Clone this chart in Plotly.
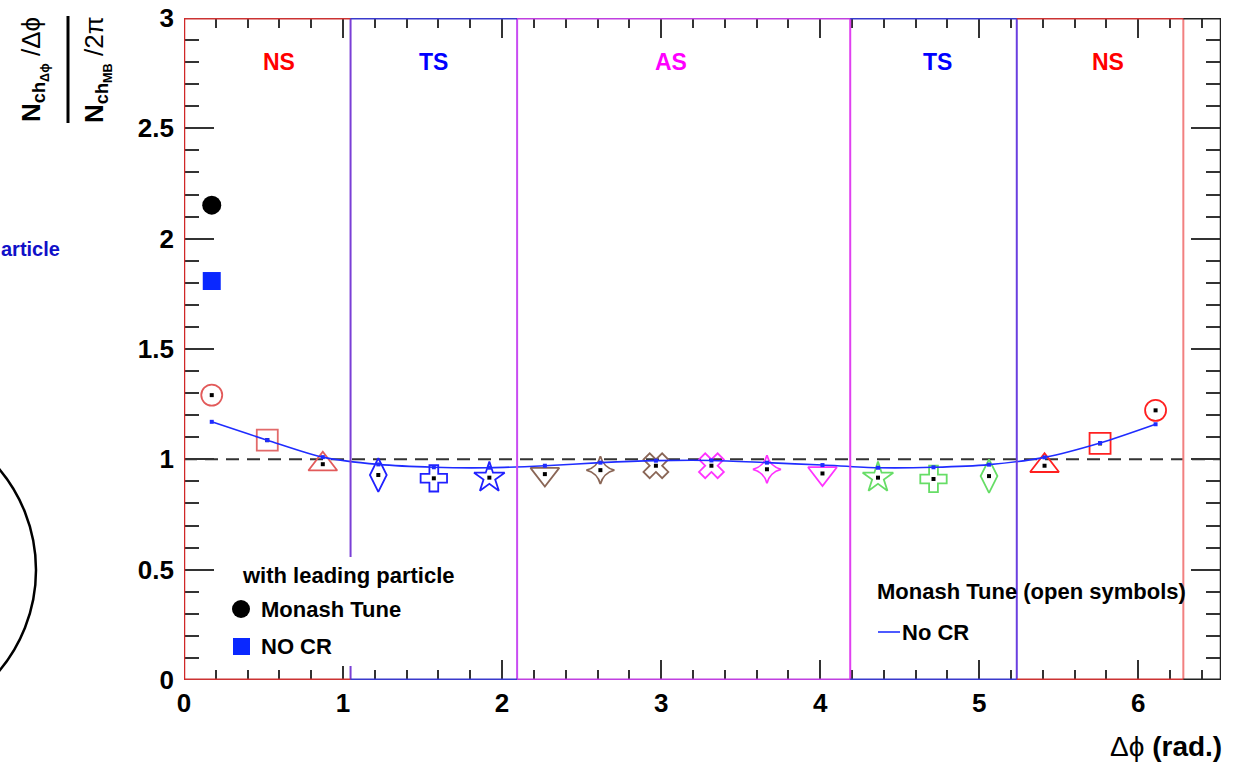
import numpy as np
import plotly.graph_objects as go

# ---------------- data ----------------
bin_centers = [0.1745, 0.5236, 0.8727, 1.2217, 1.5708, 1.9199, 2.2689, 2.6180, 2.9671,
               3.3161, 3.6652, 4.0143, 4.3633, 4.7124, 5.0615, 5.4105, 5.7596, 6.1087]
monash_open = [1.291, 1.087, 0.978, 0.929, 0.914, 0.917, 0.933, 0.951, 0.971,
               0.971, 0.955, 0.936, 0.917, 0.911, 0.924, 0.971, 1.072, 1.222]
nocr_line = [1.170, 1.087, 1.010, 0.977, 0.964, 0.962, 0.971, 0.985, 0.994,
             0.995, 0.985, 0.974, 0.962, 0.964, 0.976, 1.009, 1.074, 1.159]
open_symbols = ["circle-open", "square-open", "triangle-up-open", "diamond-tall-open", "cross-open",
                "star-open", "triangle-down-open", "star-diamond-open", "x-open",
                "x-open", "star-diamond-open", "triangle-down-open", "star-open", "cross-open",
                "diamond-tall-open", "triangle-up-open", "square-open", "circle-open"]
open_sizes = [21, 21, 25, 24, 22, 23, 25, 20, 22, 22, 20, 25, 23, 22, 24, 25, 21, 21]
open_colors = ["#e25a5a", "#e26a6a", "#e25a5a", "#2020ff", "#2020ff", "#2020ff",
               "#8a6656", "#8a6656", "#8a6656", "#ff33ff", "#ff33ff", "#ff33ff",
               "#66dd66", "#66dd66", "#66dd66", "#ff2020", "#ff2020", "#ff2020"]
lead_x = [0.1745]
lead_monash = [2.152]
lead_nocr = [1.808]

region_edges = [0, np.pi / 3, 2 * np.pi / 3, 4 * np.pi / 3, 5 * np.pi / 3, 2 * np.pi]
region_line_colors = ["#d03030", "#7a3fd6", "#c84cf2", "#e040f0", "#6a3fe0", "#f28080"]
frame_seg_colors = ["#cc3333", "#3a3acc", "#c040e0", "#3a3acc", "#cc3333"]
region_labels = ["NS", "TS", "AS", "TS", "NS"]
region_label_x = [0.60, 1.57, 3.06, 4.74, 5.81]
region_label_colors = ["#ff0000", "#0000ff", "#ff00ff", "#0000ff", "#ff0000"]
x_ticks = [0, 1, 2, 3, 4, 5, 6]
y_ticks = [0, 0.5, 1, 1.5, 2, 2.5, 3]
y_tick_labels = ["0", "0.5", "1", "1.5", "2", "2.5", "3"]

XMAX = 6.52
W, H = 1243, 762
L, R, T, B = 184, 22, 18, 82
PW, PH = W - L - R, H - T - B
FONT = "Liberation Sans"


def px(xp):
    return (xp - L) / PW


def py(yp):
    return (H - B - yp) / PH


fig = go.Figure()

# open symbols (Monash)
for i in range(len(bin_centers)):
    fig.add_trace(go.Scatter(
        x=[bin_centers[i]], y=[monash_open[i]], mode="markers",
        marker=dict(symbol=open_symbols[i], size=open_sizes[i], color=open_colors[i],
                    line=dict(width=1.8, color=open_colors[i])),
        showlegend=False, cliponaxis=False))
# central black dots
fig.add_trace(go.Scatter(x=bin_centers, y=monash_open, mode="markers",
                         marker=dict(symbol="square", size=4, color="black"), showlegend=False))
# No CR smooth line
fig.add_trace(go.Scatter(x=bin_centers, y=nocr_line, mode="lines+markers",
                         line=dict(color="#1f2cff", width=1.6, shape="spline", smoothing=0.8),
                         marker=dict(symbol="square", size=4, color="#1f2cff"), showlegend=False))
# leading particle filled
fig.add_trace(go.Scatter(x=lead_x, y=lead_monash, mode="markers",
                         marker=dict(symbol="circle", size=19, color="black"), showlegend=False))
fig.add_trace(go.Scatter(x=lead_x, y=lead_nocr, mode="markers",
                         marker=dict(symbol="square", size=18, color="#0a28ff"), showlegend=False))

shapes = []
# dashed line at 1
shapes.append(dict(type="line", xref="x", yref="y", x0=0, x1=XMAX, y0=1, y1=1,
                   line=dict(color="#333333", width=2, dash="13px,8px"), layer="below"))
# vertical region lines
for xe, c in zip(region_edges[1:], region_line_colors[1:]):
    shapes.append(dict(type="line", xref="x", yref="y", x0=xe, x1=xe, y0=0, y1=3,
                       line=dict(color=c, width=2), layer="above"))
# frame segments
for k in range(5):
    for yv in (0, 3):
        shapes.append(dict(type="line", xref="x", yref="y", x0=region_edges[k], x1=region_edges[k + 1],
                           y0=yv, y1=yv, line=dict(color=frame_seg_colors[k], width=3), layer="above"))
for yv in (0, 3):
    shapes.append(dict(type="line", xref="x", yref="y", x0=region_edges[-1], x1=XMAX, y0=yv, y1=yv,
                       line=dict(color="#222222", width=3), layer="above"))
shapes.append(dict(type="line", xref="x", yref="y", x0=0, x1=0, y0=0, y1=3,
                   line=dict(color="#d02828", width=2.5), layer="above"))
shapes.append(dict(type="line", xref="x", yref="y", x0=XMAX, x1=XMAX, y0=0, y1=3,
                   line=dict(color="#222222", width=2.5), layer="above"))

# left legend box (white, hides the region line)
shapes.append(dict(type="rect", xref="paper", yref="paper", x0=px(214), x1=px(470), y0=py(666), y1=py(557),
                   fillcolor="white", line=dict(width=0), layer="above"))
shapes.append(dict(type="circle", xref="paper", yref="paper", x0=px(232), x1=px(250), y0=py(618), y1=py(600),
                   fillcolor="black", line=dict(width=0), layer="above"))
shapes.append(dict(type="rect", xref="paper", yref="paper", x0=px(233), x1=px(250), y0=py(655), y1=py(638),
                   fillcolor="#0a28ff", line=dict(width=0), layer="above"))
# right legend line
shapes.append(dict(type="line", xref="paper", yref="paper", x0=px(878), x1=px(900), y0=py(632), y1=py(632),
                   line=dict(color="#2030ff", width=1.6), layer="above"))
# y title fraction bar
shapes.append(dict(type="line", xref="paper", yref="paper", x0=px(68), x1=px(68), y0=py(123), y1=py(16),
                   line=dict(color="black", width=3), layer="above"))
# partial circle on the left edge
cx, cy, rr = -121, 570, 157
shapes.append(dict(type="circle", xref="paper", yref="paper", x0=px(cx - rr), x1=px(cx + rr),
                   y0=py(cy + rr), y1=py(cy - rr), line=dict(color="black", width=2.5), layer="above"))

annotations = []
for lab, xl, cl in zip(region_labels, region_label_x, region_label_colors):
    annotations.append(dict(x=xl, y=2.80, xref="x", yref="y", text=f"<b>{lab}</b>", showarrow=False,
                            xanchor="center", yanchor="middle",
                            font=dict(family=FONT, size=23, color=cl)))


def ann(xp, yp, text, size, color="black", xanchor="left", angle=0):
    annotations.append(dict(x=px(xp), y=py(yp), xref="paper", yref="paper", text=text, showarrow=False,
                            xanchor=xanchor, yanchor="middle", textangle=angle,
                            font=dict(family=FONT, size=size, color=color)))


ann(240, 575, "<b>with leading particle</b>", 22)
ann(259, 609, "<b>Monash Tune</b>", 22)
ann(259, 646, "<b>NO CR</b>", 22)
ann(875, 591, "<b>Monash Tune (open symbols)</b>", 22)
ann(900, 632, "<b>No CR</b>", 22)
ann(62, 249, "<b>article</b>", 20, color="#1010c8", xanchor="right")
ann(1224, 746, "Δϕ <b>(rad.)</b>", 28, xanchor="right")
# y-axis title as rotated fraction
annotations.append(dict(x=px(34), y=py(70), xref="paper", yref="paper",
                        text="<b>N<sub>ch<sub>Δϕ</sub></sub></b> /Δϕ", showarrow=False,
                        xanchor="center", yanchor="middle",
                        textangle=-90, font=dict(family=FONT, size=26, color="black")))
annotations.append(dict(x=px(97), y=py(70), xref="paper", yref="paper",
                        text="<b>N<sub>ch<sub>MB</sub></sub></b> /2π", showarrow=False,
                        xanchor="center", yanchor="middle",
                        textangle=-90, font=dict(family=FONT, size=26, color="black")))

tickfont = dict(family=FONT, size=26, color="black", weight="bold")
fig.update_layout(
    width=W, height=H, margin=dict(l=L, r=R, t=T, b=B, autoexpand=False),
    paper_bgcolor="white", plot_bgcolor="white",
    shapes=shapes, annotations=annotations, showlegend=False,
    xaxis=dict(range=[0, XMAX], showgrid=False, zeroline=False, showline=False, automargin=False,
               tickvals=x_ticks, ticktext=[str(v) for v in x_ticks],
               ticks="inside", ticklen=20, tickwidth=1.5, tickcolor="#333333", mirror="ticks",
               minor=dict(dtick=0.2, ticks="inside", ticklen=10, tickwidth=1.5, tickcolor="#333333"),
               tickfont=tickfont, ticklabelstandoff=5),
    yaxis=dict(range=[0, 3], showgrid=False, zeroline=False, showline=False, automargin=False,
               tickvals=y_ticks, ticktext=y_tick_labels,
               ticks="inside", ticklen=30, tickwidth=1.5, tickcolor="#333333", mirror="ticks",
               minor=dict(dtick=0.1, ticks="inside", ticklen=15, tickwidth=1.5, tickcolor="#333333"),
               tickfont=tickfont, ticklabelstandoff=9),
)

fig.write_html("out.html")
